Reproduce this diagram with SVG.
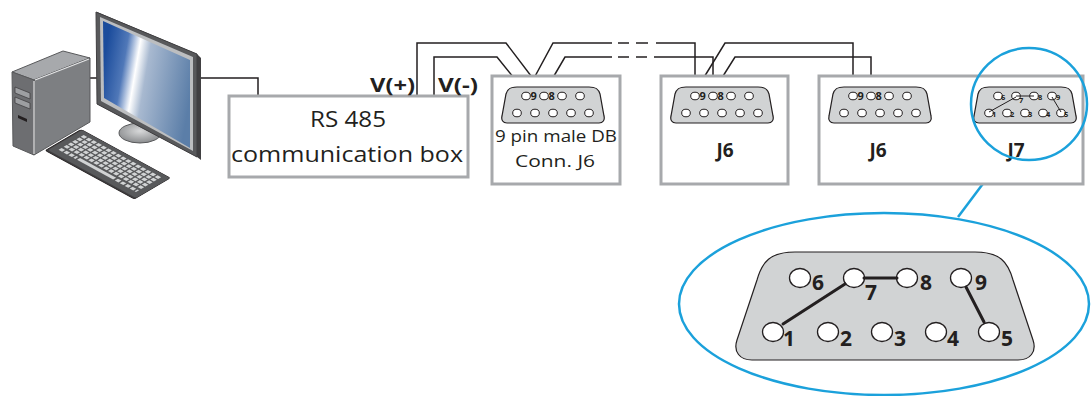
<svg xmlns="http://www.w3.org/2000/svg" width="1091" height="396" viewBox="0 0 1091 396">
  <style>
    .box { fill: #ffffff; stroke: #a7a9ac; stroke-width: 3; }
    .wire { fill: none; stroke: #231f20; stroke-width: 1.5; }
    .shell { fill: #d1d3d4; stroke: #231f20; stroke-width: 1.2; }
    .pin { fill: #ffffff; stroke: #231f20; stroke-width: 1; }
    .bigpin { fill: #ffffff; stroke: #231f20; stroke-width: 1.3; }
    .jump { fill: none; stroke: #231f20; stroke-width: 3; stroke-linecap: round; }
    .callout { fill: none; stroke: #1ba1db; stroke-width: 2.5; }
    .lbl { font-family: "Open Sans", "Liberation Sans", sans-serif; fill: #231f20; }
    .bold { font-family: "Open Sans", "Liberation Sans", sans-serif; font-weight: bold; fill: #231f20; }
  </style>
  <defs>
    <!-- small 9-pin D-sub shell, centred on 0,0 -->
    <path id="db9" d="M -36,-18 L 36,-18 C 44,-18 46,-15 47,-11 L 51,11 C 52,15 50,18 46,18 L -46,18 C -50,18 -52,15 -51,11 L -47,-11 C -46,-15 -44,-18 -36,-18 Z"/>
    <g id="db9pins">
      <use href="#db9" class="shell"/>
      <ellipse class="pin" cx="-27" cy="-9" rx="4.3" ry="3.8"/>
      <ellipse class="pin" cx="-9" cy="-9" rx="4.3" ry="3.8"/>
      <ellipse class="pin" cx="9" cy="-9" rx="4.3" ry="3.8"/>
      <ellipse class="pin" cx="27" cy="-9" rx="4.3" ry="3.8"/>
      <ellipse class="pin" cx="-36" cy="8" rx="4.3" ry="3.8"/>
      <ellipse class="pin" cx="-18" cy="8" rx="4.3" ry="3.8"/>
      <ellipse class="pin" cx="0" cy="8" rx="4.3" ry="3.8"/>
      <ellipse class="pin" cx="18" cy="8" rx="4.3" ry="3.8"/>
      <ellipse class="pin" cx="36" cy="8" rx="4.3" ry="3.8"/>
    </g>
    <linearGradient id="screen" x1="0" y1="0.35" x2="1" y2="0.6">
      <stop offset="0" stop-color="#1b4c9c"/>
      <stop offset="0.22" stop-color="#5078b8"/>
      <stop offset="0.36" stop-color="#ffffff"/>
      <stop offset="0.48" stop-color="#a8b9d0"/>
      <stop offset="1" stop-color="#5b7ea8"/>
    </linearGradient>
    <radialGradient id="standGrad" cx="0.5" cy="0.4" r="0.6">
      <stop offset="0" stop-color="#d8d9da"/>
      <stop offset="1" stop-color="#8a8c8e"/>
    </radialGradient>
  </defs>

  <!-- connectors / cabling -->
  <g id="connectors">
    <!-- PC to RS485 box -->
    <polyline class="wire" points="90,78 97,78"/>
    <polyline class="wire" points="200,78 258,78 258,96"/>
    <!-- V(+) / V(-) into first J6 -->
    <polyline class="wire" points="417,96 417,43 506,43 544,93"/>
    <polyline class="wire" points="434,96 434,57 497,57 526,93"/>
    <!-- first J6 out to second J6 -->
    <polyline class="wire" points="526,93 553,43 612,43"/>
    <polyline class="wire" points="544,93 565,57 612,57"/>
    <line class="wire" x1="618" y1="43" x2="629" y2="43"/>
    <line class="wire" x1="636" y1="43" x2="648" y2="43"/>
    <line class="wire" x1="618" y1="57" x2="629" y2="57"/>
    <line class="wire" x1="636" y1="57" x2="647" y2="57"/>
    <polyline class="wire" points="656,43 695,43 695,92"/>
    <polyline class="wire" points="654,57 713,57 713,92"/>
    <!-- second J6 out to last J6 -->
    <polyline class="wire" points="695,92 725,43 853,43 853,92"/>
    <polyline class="wire" points="713,92 735,57 871,57 871,92"/>
    <!-- callout leader -->
    <line class="callout" x1="1003" y1="157" x2="958" y2="217"/>
  </g>

  <!-- computer -->
  <g id="computer">
    <!-- tower -->
    <polygon points="12,72 63,51 90,58 34,80" fill="#a7a9ac" stroke="#58595b" stroke-width="1"/>
    <polygon points="34,80 90,58 90,122 34,155" fill="#7d7f82" stroke="#58595b" stroke-width="1"/>
    <polygon points="12,72 34,80 34,155 13,146" fill="#6d6e71" stroke="#58595b" stroke-width="1"/>
    <line x1="34" y1="81" x2="34" y2="154" stroke="#e6e7e8" stroke-width="1.2"/>
    <line x1="35" y1="80" x2="89" y2="59" stroke="#e6e7e8" stroke-width="1.2"/>
    <polygon points="15,87 30,93 30,99 15,93" fill="#9d9fa2" stroke="#414042" stroke-width="0.8"/>
    <polygon points="15,97 30,103 30,109 15,103" fill="#9d9fa2" stroke="#414042" stroke-width="0.8"/>
    <polygon points="18,115 27,119 27,122 18,118" fill="#231f20"/>
    <!-- keyboard -->
    <g transform="matrix(0.88 0.48 -0.85 0.5 82 130)">
      <rect x="-1" y="0" width="101" height="42" rx="2" fill="#414042" stroke="#231f20" stroke-width="1"/>
      <rect x="0" y="0" width="100" height="40" rx="2" fill="#58595b"/>
      <g stroke="#d1d3d4" stroke-width="3.6" stroke-dasharray="4 1.6">
        <line x1="6" y1="6" x2="94" y2="6"/>
        <line x1="6" y1="11" x2="94" y2="11"/>
        <line x1="6" y1="16" x2="94" y2="16"/>
        <line x1="6" y1="21" x2="94" y2="21"/>
        <line x1="6" y1="26" x2="94" y2="26"/>
      </g>
      <line x1="6" y1="32" x2="25" y2="32" stroke="#d1d3d4" stroke-width="3.6" stroke-dasharray="4 1.6"/>
      <line x1="27" y1="32" x2="68" y2="32" stroke="#d1d3d4" stroke-width="3.6"/>
      <line x1="70" y1="32" x2="94" y2="32" stroke="#d1d3d4" stroke-width="3.6" stroke-dasharray="4 1.6"/>
    </g>
    <!-- monitor stand -->
    <ellipse cx="140" cy="133" rx="21" ry="10" fill="url(#standGrad)" stroke="#58595b" stroke-width="1"/>
    <!-- monitor -->
    <polygon points="97,12 197,54 201,58 201,160 197,157 97,104" fill="#414042"/>
    <polygon points="96,12 197,54 197,157 97,104" fill="#58595b" stroke="#414042" stroke-width="1"/>
    <polygon points="100,17 193,57 193,151 101,101" fill="#bcbec0"/>
    <polygon points="103,21 190,60 190,148 104,98" fill="url(#screen)"/>
  </g>

  <!-- RS 485 communication box -->
  <g id="rs485">
    <rect class="box" x="229" y="96" width="239" height="81"/>
    <text class="lbl" x="348" y="127" font-size="22" text-anchor="middle" textLength="76" lengthAdjust="spacingAndGlyphs">RS 485</text>
    <text class="lbl" x="347" y="162" font-size="22" text-anchor="middle" textLength="232" lengthAdjust="spacingAndGlyphs">communication box</text>
    <text class="bold" x="370" y="92" font-size="20" textLength="45" lengthAdjust="spacingAndGlyphs">V(+)</text>
    <text class="bold" x="438" y="92" font-size="20" textLength="40" lengthAdjust="spacingAndGlyphs">V(-)</text>
  </g>

  <!-- first J6 -->
  <g id="j6-first">
    <rect class="box" x="492" y="76" width="128" height="108"/>
    <use href="#db9pins" x="553" y="105"/>
    <text class="bold" x="530.5" y="100" font-size="11">9</text>
    <text class="bold" x="548.5" y="100" font-size="11">8</text>
    <text class="lbl" x="556" y="142" font-size="17" text-anchor="middle" textLength="122" lengthAdjust="spacingAndGlyphs">9 pin male DB</text>
    <text class="lbl" x="555" y="167" font-size="17" text-anchor="middle" textLength="80" lengthAdjust="spacingAndGlyphs">Conn. J6</text>
  </g>

  <!-- second J6 -->
  <g id="j6-second">
    <rect class="box" x="661" y="76" width="127" height="108"/>
    <use href="#db9pins" x="722" y="105"/>
    <text class="bold" x="699.5" y="100" font-size="11">9</text>
    <text class="bold" x="717.5" y="100" font-size="11">8</text>
    <text class="bold" x="725" y="157" font-size="19" text-anchor="middle">J6</text>
  </g>

  <!-- last unit: J6 and J7 -->
  <g id="j6-j7">
    <rect class="box" x="819" y="76" width="264" height="108"/>
    <use href="#db9pins" x="880" y="105"/>
    <text class="bold" x="857.5" y="100" font-size="11">9</text>
    <text class="bold" x="875.5" y="100" font-size="11">8</text>
    <text class="bold" x="878" y="157" font-size="19" text-anchor="middle">J6</text>
    <use href="#db9pins" x="1025" y="105"/>
    <line x1="1016" y1="96" x2="1034" y2="96" stroke="#231f20" stroke-width="1"/>
    <line x1="1016" y1="97" x2="989" y2="112" stroke="#231f20" stroke-width="1"/>
    <line x1="1052" y1="97" x2="1061" y2="112" stroke="#231f20" stroke-width="1"/>
    <g class="bold" font-size="7.5">
      <text x="1001" y="99.5">6</text>
      <text x="1019" y="103">7</text>
      <text x="1038" y="99.5">8</text>
      <text x="1056" y="99.5">9</text>
      <text x="992" y="117">1</text>
      <text x="1010" y="117">2</text>
      <text x="1028" y="117">3</text>
      <text x="1046" y="117">4</text>
      <text x="1064" y="117">5</text>
    </g>
    <text class="bold" x="1016" y="157" font-size="19" text-anchor="middle">J7</text>
    <ellipse class="callout" cx="1029" cy="104" rx="58" ry="56"/>
  </g>

  <!-- enlarged J7 jumper detail -->
  <g id="j7-detail">
    <ellipse class="callout" cx="884" cy="304" rx="205" ry="91"/>
    <path class="shell" stroke-width="1.5" d="M 795,252 L 975,252 C 1000,252 1008,262 1013,280 L 1033,340 C 1037,352 1030,360 1018,360 L 752,360 C 740,360 733,352 737,340 L 757,280 C 762,262 770,252 795,252 Z"/>
    <ellipse class="bigpin" cx="800" cy="278" rx="10.5" ry="9.5"/>
    <ellipse class="bigpin" cx="854" cy="278" rx="10.5" ry="9.5"/>
    <ellipse class="bigpin" cx="907" cy="278" rx="10.5" ry="9.5"/>
    <ellipse class="bigpin" cx="961" cy="278" rx="10.5" ry="9.5"/>
    <ellipse class="bigpin" cx="773" cy="332" rx="10.5" ry="9.5"/>
    <ellipse class="bigpin" cx="828" cy="332" rx="10.5" ry="9.5"/>
    <ellipse class="bigpin" cx="882" cy="332" rx="10.5" ry="9.5"/>
    <ellipse class="bigpin" cx="936" cy="332" rx="10.5" ry="9.5"/>
    <ellipse class="bigpin" cx="989" cy="332" rx="10.5" ry="9.5"/>
    <line class="jump" x1="864" y1="278" x2="897" y2="278"/>
    <line class="jump" x1="845" y1="284" x2="783" y2="324"/>
    <line class="jump" x1="966" y1="287" x2="984" y2="322"/>
    <g class="bold" font-size="21">
      <text x="812" y="290">6</text>
      <text x="865" y="300">7</text>
      <text x="920" y="290">8</text>
      <text x="975" y="290">9</text>
      <text x="783" y="346">1</text>
      <text x="840" y="346">2</text>
      <text x="894" y="346">3</text>
      <text x="947" y="346">4</text>
      <text x="1001" y="346">5</text>
    </g>
  </g>
</svg>
